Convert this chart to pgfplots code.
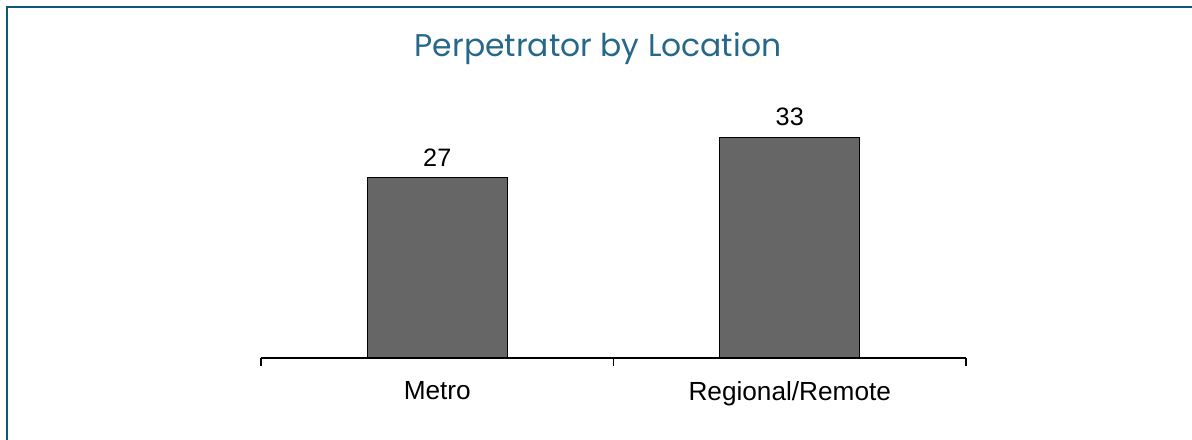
\documentclass[border=0pt]{standalone}
\usepackage{pgfplots}
\pgfplotsset{compat=1.18}
\usepackage{fontspec}
\setmainfont{Liberation Sans}
\newfontfamily\titlefont{Poppins}
\definecolor{frameblue}{RGB}{16,88,122}
\definecolor{titleblue}{RGB}{38,104,138}
\definecolor{bargray}{RGB}{102,102,102}
\begin{document}
\begin{tikzpicture}
\useasboundingbox (0,0) rectangle (596pt,219.5pt);
\begin{scope}
\clip (0,0) rectangle (596pt,219.5pt);
\draw[frameblue, line width=1pt] (3.5pt,-5pt) -- (3.5pt,216pt) -- (600pt,216pt);
\end{scope}
\node[font=\titlefont\fontsize{15.7}{18}\selectfont, text=titleblue] at (299pt,195pt) {Perpetrator by Location};
\begin{axis}[
  at={(130.5pt,40.5pt)}, anchor=south west,
  scale only axis, width=352.5pt, height=133.8pt,
  ybar, bar width=70pt,
  xmin=-0.5, xmax=1.5, ymin=0, ymax=40,
  axis x line=bottom, axis y line=none,
  axis line style={-, line width=0.7pt, black},
  xtick={0,1}, xticklabels={Metro, Regional/Remote},
  minor xtick={-0.5,0.5,1.5},
  major tick length=0pt, minor tick length=4pt, tick align=outside,
  minor tick style={black, line width=0.7pt},
  ticklabel style={font=\fontsize{13.1}{15}\selectfont},
  xticklabel style={yshift=-8pt},
  nodes near coords,
  every node near coord/.append style={font=\fontsize{12.6}{15}\selectfont, yshift=2pt},
  /pgf/number format/assume math mode=true,
  clip=false,
]
\addplot[fill=bargray, draw=black, line width=0.6pt] coordinates {(0,27) (1,33)};
\end{axis}
\end{tikzpicture}
\end{document}
